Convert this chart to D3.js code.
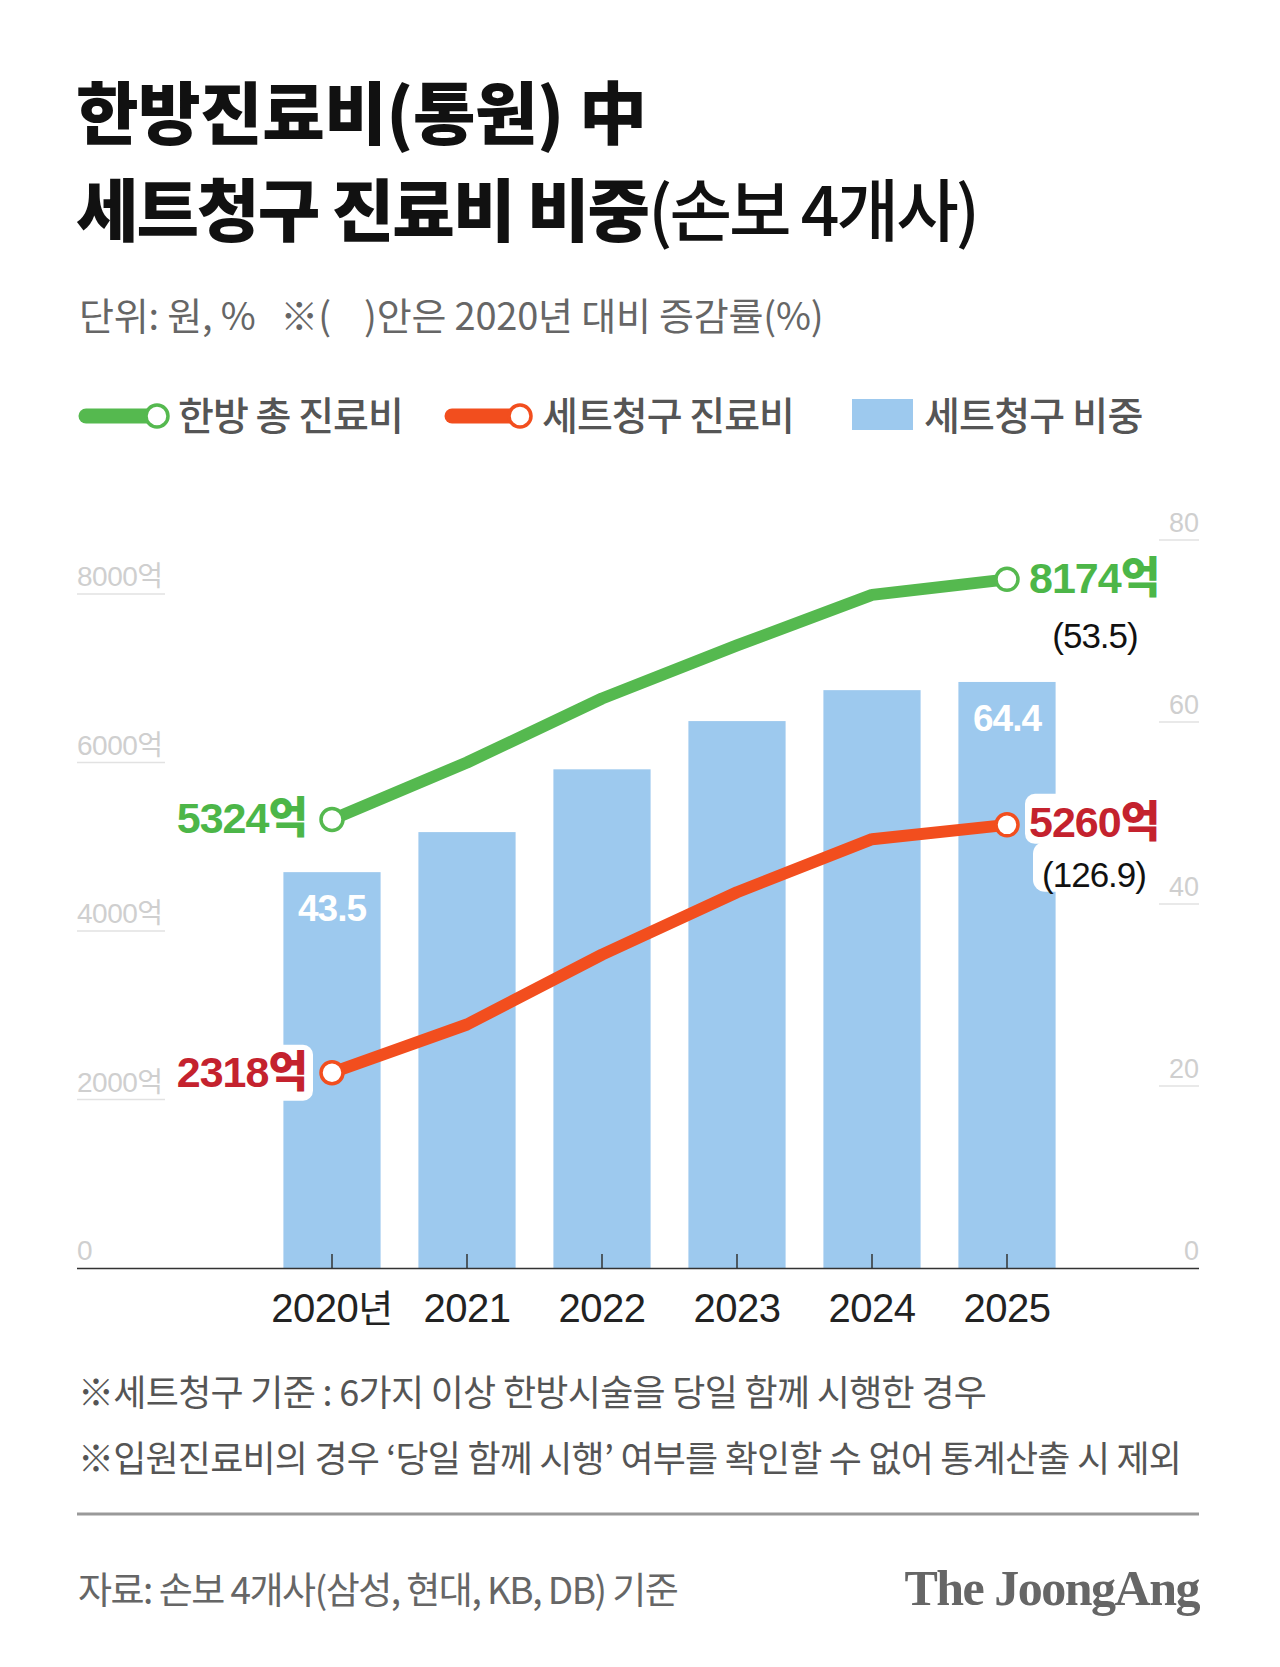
<!DOCTYPE html>
<html><head><meta charset="utf-8">
<script src="https://cdn.jsdelivr.net/npm/d3@7"></script>
<style>
html,body{margin:0;padding:0;background:#fff;}
</style></head>
<body><svg id="c" width="1280" height="1667" font-family="'Noto Sans CJK KR','Noto Sans',sans-serif"></svg>
<script>
const years = ["2020","2021","2022","2023","2024","2025"];
const yearLabels = ["2020","2021","2022","2023","2024","2025"];
const totalCost = [5324, 6000, 6760, 7390, 7990, 8174];
const setCost = [2318, 2890, 3720, 4460, 5090, 5260];
const setShare = [43.5, 47.9, 54.8, 60.1, 63.5, 64.4];
const leftTicks = [0, 2000, 4000, 6000, 8000];
const rightTicks = [0, 20, 40, 60, 80];

const svg = d3.select("#c");
const GREEN = "#55b94f", ORANGE = "#f24e1e", BLUE = "#9dc9ee", RED = "#c4222e";
const SANS = "'Liberation Sans', Arial, sans-serif";
const KR = "'Noto Sans CJK KR', sans-serif";

// Title
svg.append("text").attr("x", 76).attr("y", 139).attr("font-size", 68).attr("font-weight", 900).attr("fill", "#111").attr("letter-spacing", -0.5)
  .text("한방진료비(통원) 中");
const t2 = svg.append("text").attr("x", 76).attr("y", 236).attr("font-size", 68).attr("font-weight", 900).attr("fill", "#111").attr("letter-spacing", -2);
t2.append("tspan").text("세트청구 진료비 비중");
t2.append("tspan").attr("font-weight", 500).attr("letter-spacing", -3).text("(손보 4개사)");

svg.append("text").attr("x", 79).attr("y", 330).attr("font-size", 38).attr("fill", "#666").attr("letter-spacing", -0.2)
  .attr("xml:space", "preserve").text("단위: 원, %   ※(    )안은 2020년 대비 증감률(%)");

// Legend
function legLine(x0, x1, col, label, tx) {
  svg.append("line").attr("x1", x0).attr("x2", x1).attr("y1", 416).attr("y2", 416).attr("stroke", col).attr("stroke-width", 15).attr("stroke-linecap", "round");
  svg.append("circle").attr("cx", x1).attr("cy", 416).attr("r", 11).attr("fill", "#fff").attr("stroke", col).attr("stroke-width", 3.5);
  svg.append("text").attr("x", tx).attr("y", 416).attr("dy", "0.36em").attr("font-size", 39).attr("font-weight", 500).attr("fill", "#555").attr("letter-spacing", -1).text(label);
}
legLine(86, 157, GREEN, "한방 총 진료비", 178);
legLine(452, 520, ORANGE, "세트청구 진료비", 542);
svg.append("rect").attr("x", 852).attr("y", 399).attr("width", 61).attr("height", 31).attr("fill", BLUE);
svg.append("text").attr("x", 924).attr("y", 416).attr("dy", "0.36em").attr("font-size", 39).attr("font-weight", 500).attr("fill", "#555").attr("letter-spacing", -0.8).text("세트청구 비중");

// Scales
const x = d3.scaleBand().domain(years).range([264.5, 1074.5]).paddingInner(0.28).paddingOuter(0.14);
const yL = d3.scaleLinear().domain([0, 8000]).range([1268, 594]);
const yR = d3.scaleLinear().domain([0, 80]).range([1268, 540]);
const cx = d => x(d) + x.bandwidth() / 2;

// left grid
const lg = svg.append("g");
leftTicks.forEach(v => {
  if (v > 0) lg.append("line").attr("x1", 77).attr("x2", 165).attr("y1", yL(v)).attr("y2", yL(v)).attr("stroke", "#e2e2e2").attr("stroke-width", 1.5);
  const t = lg.append("text").attr("x", 77).attr("y", yL(v) - 8).attr("font-size", 28).attr("fill", "#cfcfcf").attr("font-family", SANS).attr("letter-spacing", -0.5);
  t.append("tspan").text(v);
  if (v > 0) t.append("tspan").attr("font-family", KR).text("억");
});
// right grid
rightTicks.forEach(v => {
  if (v > 0) lg.append("line").attr("x1", 1159).attr("x2", 1199).attr("y1", yR(v)).attr("y2", yR(v)).attr("stroke", "#e2e2e2").attr("stroke-width", 1.5);
  lg.append("text").attr("x", 1199).attr("y", yR(v) - 8).attr("text-anchor", "end").attr("font-size", 27).attr("fill", "#cfcfcf").attr("font-family", SANS).text(v);
});

// bars
svg.append("g").selectAll("rect").data(years).join("rect")
  .attr("x", d => x(d)).attr("width", x.bandwidth())
  .attr("y", (d, i) => yR(setShare[i])).attr("height", (d, i) => yR(0) - yR(setShare[i]))
  .attr("fill", BLUE);

// x axis
const xAxis = d3.axisBottom(x).tickSize(0).tickFormat((d, i) => yearLabels[i]);
const ax = svg.append("g").attr("transform", "translate(0,1268)").call(xAxis);
ax.select(".domain").remove();
ax.selectAll("text").attr("font-size", 40).attr("fill", "#222").attr("dy", 0).attr("y", 54).attr("letter-spacing", -0.5)
  .attr("font-family", SANS);
ax.selectAll(".tick").filter((d, i) => i === 0).select("text")
  .append("tspan").attr("font-family", KR).attr("font-size", 38).text("년");
svg.append("line").attr("x1", 77).attr("x2", 1199).attr("y1", 1268.5).attr("y2", 1268.5).attr("stroke", "#333").attr("stroke-width", 1.5);
svg.append("g").selectAll("line").data(years).join("line")
  .attr("x1", d => cx(d)).attr("x2", d => cx(d)).attr("y1", 1254).attr("y2", 1268).attr("stroke", "#333").attr("stroke-width", 1.5);

// bar value labels (first and last)
[0, 5].forEach(i => {
  svg.append("text").attr("x", cx(years[i])).attr("y", yR(setShare[i]) + 36).attr("dy", "0.36em").attr("text-anchor", "middle")
    .attr("font-size", 37).attr("font-weight", 700).attr("fill", "#fff").attr("font-family", SANS).attr("letter-spacing", -1)
    .text(setShare[i].toFixed(1));
});

// lines
const lineL = d3.line().x((d, i) => cx(years[i])).y(d => yL(d));
svg.append("path").datum(totalCost).attr("d", lineL).attr("fill", "none").attr("stroke", GREEN).attr("stroke-width", 12).attr("stroke-linejoin", "round");
svg.append("path").datum(setCost).attr("d", lineL).attr("fill", "none").attr("stroke", ORANGE).attr("stroke-width", 12).attr("stroke-linejoin", "round");

// label backgrounds
const last = years.length - 1;
svg.append("rect").attr("x", 165).attr("y", yL(setCost[0]) - 28).attr("width", 148).attr("height", 56).attr("rx", 10).attr("fill", "#fff");
svg.append("rect").attr("x", 1025).attr("y", yL(setCost[last]) - 31).attr("width", 135).attr("height", 50).attr("rx", 10).attr("fill", "#fff");
svg.append("rect").attr("x", 1033).attr("y", yL(setCost[last]) + 17).attr("width", 124).attr("height", 50).attr("rx", 12).attr("fill", "#fff");

// end points
[[totalCost, GREEN], [setCost, ORANGE]].forEach(([arr, col]) => {
  [0, last].forEach(i => {
    svg.append("circle").attr("cx", cx(years[i])).attr("cy", yL(arr[i])).attr("r", 11).attr("fill", "#fff").attr("stroke", col).attr("stroke-width", 3.5);
  });
});

// value labels
function lbl(xp, yp, anchor, col, txt) {
  const t = svg.append("text").attr("x", xp).attr("y", yp).attr("dy", "0.36em").attr("text-anchor", anchor).attr("fill", col)
    .attr("font-size", 43).attr("font-weight", 700).attr("font-family", SANS).attr("letter-spacing", -1);
  t.append("tspan").text(txt);
  t.append("tspan").attr("font-family", KR).attr("font-weight", 900).text("억");
}
lbl(cx(years[0]) - 25, yL(totalCost[0]) - 2, "end", "#4cb648", totalCost[0]);
lbl(cx(years[0]) - 25, yL(setCost[0]) - 1, "end", RED, setCost[0]);
lbl(cx(years[last]) + 22, yL(totalCost[last]) - 2, "start", "#4cb648", totalCost[last]);
lbl(cx(years[last]) + 22, yL(setCost[last]) - 3, "start", RED, setCost[last]);

svg.append("text").attr("x", 1095).attr("y", yL(totalCost[last]) + 56).attr("dy", "0.36em").attr("text-anchor", "middle").attr("font-size", 35).attr("fill", "#111").attr("font-family", SANS).attr("letter-spacing", -1).text("(53.5)");
svg.append("text").attr("x", 1094).attr("y", yL(setCost[last]) + 50).attr("dy", "0.36em").attr("text-anchor", "middle").attr("font-size", 35).attr("fill", "#111").attr("font-family", SANS).attr("letter-spacing", -1).text("(126.9)");

// footnotes
svg.append("text").attr("x", 78).attr("y", 1406).attr("font-size", 36).attr("fill", "#555").attr("letter-spacing", -0.7).text("※세트청구 기준 : 6가지 이상 한방시술을 당일 함께 시행한 경우");
svg.append("text").attr("x", 78).attr("y", 1472).attr("font-size", 36).attr("fill", "#555").attr("letter-spacing", -0.8).text("※입원진료비의 경우 ‘당일 함께 시행’ 여부를 확인할 수 없어 통계산출 시 제외");
svg.append("line").attr("x1", 77).attr("x2", 1199).attr("y1", 1514).attr("y2", 1514).attr("stroke", "#999").attr("stroke-width", 3);
svg.append("text").attr("x", 78).attr("y", 1604).attr("font-size", 37).attr("fill", "#666").attr("letter-spacing", -1.5).text("자료: 손보 4개사(삼성, 현대, KB, DB) 기준");
svg.append("text").attr("x", 1199).attr("y", 1605).attr("text-anchor", "end").attr("font-size", 50).attr("font-weight", 700).attr("fill", "#666").attr("letter-spacing", -1.5)
  .attr("font-family", "'Liberation Serif', 'DejaVu Serif', serif").text("The JoongAng");
</script></body></html>
